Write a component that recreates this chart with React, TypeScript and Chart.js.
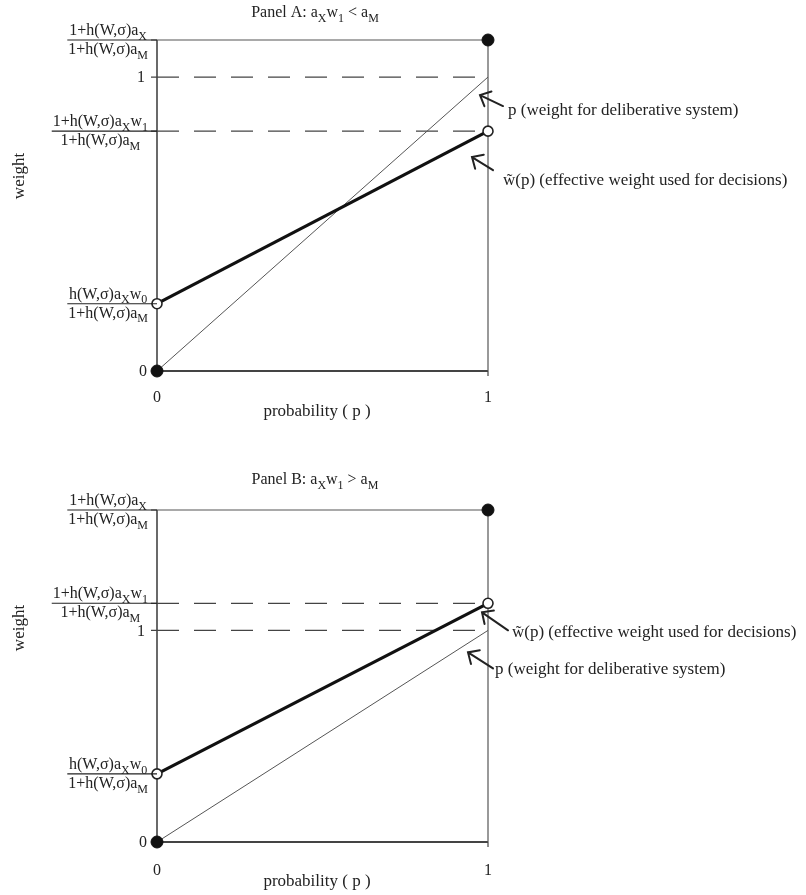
import React, { useEffect, useRef } from 'react';
import { Chart, registerables } from 'chart.js';

Chart.register(...registerables);

// ---------- data ----------
const probability = [0, 1];
const xTickLabels = ['0', '1'];

// Panel A: a_X w_1 < a_M
const panelADeliberative = [0, 1]; // p
const panelAEffective = [0.229, 0.816]; // w~(p) at p=0, p=1
const panelATop = [1.126];
const panelAOne = [1];

// Panel B: a_X w_1 > a_M
const panelBDeliberative = [0, 1];
const panelBEffective = [0.322, 1.128];
const panelBTop = [1.569];
const panelBOne = [1];

type Seg = [string, number];
const FONT = '"Liberation Serif", "Times New Roman", serif';
const INK = '#222';

const numerTop: Seg[] = [['1+h(W,σ)a', 0], ['X', 1]];
const denomM: Seg[] = [['1+h(W,σ)a', 0], ['M', 1]];
const numerW1: Seg[] = [['1+h(W,σ)a', 0], ['X', 1], ['w', 0], ['1', 1]];
const numerW0: Seg[] = [['h(W,σ)a', 0], ['X', 1], ['w', 0], ['0', 1]];
const titleA: Seg[] = [['Panel A: a', 0], ['X', 1], ['w', 0], ['1', 1], [' < a', 0], ['M', 1]];
const titleB: Seg[] = [['Panel B: a', 0], ['X', 1], ['w', 0], ['1', 1], [' > a', 0], ['M', 1]];
const pNote = 'p (weight for deliberative system)';
const wNote = 'w\u0303(p) (effective weight used for decisions)';
const xTitle = 'probability ( p )';
const yTitle = 'weight';

function segFont(size: number, sub: number) {
  return `${sub ? Math.round(size * 0.72) : size}px ${FONT}`;
}
function richWidth(ctx: CanvasRenderingContext2D, segs: Seg[], size: number) {
  let w = 0;
  for (const [t, s] of segs) {
    ctx.font = segFont(size, s);
    w += ctx.measureText(t).width;
  }
  return w;
}
function drawRich(ctx: CanvasRenderingContext2D, segs: Seg[], x: number, y: number, size: number, align: string) {
  const w = richWidth(ctx, segs, size);
  let cx = align === 'center' ? x - w / 2 : align === 'right' ? x - w : x;
  ctx.textAlign = 'left';
  ctx.textBaseline = 'alphabetic';
  for (const [t, s] of segs) {
    ctx.font = segFont(size, s);
    ctx.fillText(t, cx, y + (s ? size * 0.3 : 0));
    cx += ctx.measureText(t).width;
  }
}
function drawArrow(ctx: CanvasRenderingContext2D, tx: number, ty: number, fx: number, fy: number) {
  ctx.save();
  ctx.strokeStyle = INK;
  ctx.lineWidth = 2;
  ctx.lineCap = 'round';
  ctx.lineJoin = 'miter';
  ctx.beginPath();
  ctx.moveTo(fx, fy);
  ctx.lineTo(tx, ty);
  const ang = Math.atan2(fy - ty, fx - tx);
  const len = 12;
  const spread = 0.75;
  ctx.moveTo(tx + len * Math.cos(ang - spread), ty + len * Math.sin(ang - spread));
  ctx.lineTo(tx, ty);
  ctx.lineTo(tx + len * Math.cos(ang + spread), ty + len * Math.sin(ang + spread));
  ctx.stroke();
  ctx.restore();
}

interface Note {
  text: string;
  level: 'one' | 'w1';
  tip: [number, number];
  tail: [number, number];
  txt: [number, number];
}

interface PanelSpec {
  height: number;
  padding: { left: number; right: number; top: number; bottom: number };
  p: number[];
  w: number[];
  top: number[];
  one: number[];
  title: Seg[];
  titleY: number;
  xTickY: number;
  xTitleY: number;
  yTitleY: number;
  notes: Note[];
}

const specA: PanelSpec = {
  height: 447,
  padding: { left: 157, right: 318, top: 40, bottom: 76 },
  p: panelADeliberative,
  w: panelAEffective,
  top: panelATop,
  one: panelAOne,
  title: titleA,
  titleY: 17,
  xTickY: 402,
  xTitleY: 416,
  yTitleY: 176,
  notes: [
    { text: pNote, level: 'one', tip: [-8, 18], tail: [15, 29], txt: [20, 38] },
    { text: wNote, level: 'w1', tip: [-16, 26], tail: [5, 39], txt: [15, 54] },
  ],
};

const specB: PanelSpec = {
  height: 448,
  padding: { left: 157, right: 318, top: 63, bottom: 53 },
  p: panelBDeliberative,
  w: panelBEffective,
  top: panelBTop,
  one: panelBOne,
  title: titleB,
  titleY: 37,
  xTickY: 428,
  xTitleY: 439,
  yTitleY: 181,
  notes: [
    { text: wNote, level: 'w1', tip: [-6, 9], tail: [20, 27], txt: [24, 34] },
    { text: pNote, level: 'one', tip: [-20, 22], tail: [5, 38], txt: [7, 44] },
  ],
};

function buildChart(canvas: HTMLCanvasElement, spec: PanelSpec) {
  const top = spec.top[0];
  const one = spec.one[0];
  const w1 = spec.w[1];
  const w0 = spec.w[0];
  const pts = (ys: number[]) => ys.map((y, i) => ({ x: probability[i], y }));
  const level = (v: number) => probability.map((x) => ({ x, y: v }));
  const dash = [22, 15];

  const decor = {
    id: 'decor',
    beforeDatasetsDraw(chart: any) {
      const ctx: CanvasRenderingContext2D = chart.ctx;
      const xs = chart.scales.x;
      const ys = chart.scales.y;
      const xL = xs.getPixelForValue(0);
      const xR = xs.getPixelForValue(1);
      const yB = ys.getPixelForValue(0);
      const yT = ys.getPixelForValue(top);
      ctx.save();
      ctx.strokeStyle = '#444';
      ctx.lineWidth = 1.6;
      ctx.beginPath();
      ctx.moveTo(xL, yT);
      ctx.lineTo(xL, yB);
      ctx.stroke();
      ctx.lineWidth = 2;
      ctx.beginPath();
      ctx.moveTo(xL, yB);
      ctx.lineTo(xR, yB);
      ctx.stroke();
      // tick marks
      ctx.lineWidth = 1.2;
      ctx.beginPath();
      for (const v of [top, one, w1, w0, 0]) {
        const y = ys.getPixelForValue(v);
        ctx.moveTo(xL - 6, y);
        ctx.lineTo(xL, y);
      }
      for (const v of probability) {
        const x = xs.getPixelForValue(v);
        ctx.moveTo(x, yB);
        ctx.lineTo(x, yB + 5);
      }
      ctx.stroke();
      ctx.restore();
    },
    afterDraw(chart: any) {
      const ctx: CanvasRenderingContext2D = chart.ctx;
      const xs = chart.scales.x;
      const ys = chart.scales.y;
      const xL = xs.getPixelForValue(0);
      const xR = xs.getPixelForValue(1);
      const R = 148;
      const size = 16;
      ctx.save();
      ctx.fillStyle = INK;
      ctx.strokeStyle = INK;

      // fraction tick labels
      const fractions: [number, Seg[], Seg[]][] = [
        [top, numerTop, denomM],
        [w1, numerW1, denomM],
        [w0, numerW0, denomM],
      ];
      for (const [v, num, den] of fractions) {
        const y = ys.getPixelForValue(v);
        const wn = richWidth(ctx, num, size);
        const wd = richWidth(ctx, den, size);
        const W = Math.max(wn, wd);
        const cx = R - W / 2;
        ctx.lineWidth = 1.1;
        ctx.beginPath();
        ctx.moveTo(R - W - 1, y);
        ctx.lineTo(xL, y);
        ctx.stroke();
        drawRich(ctx, num, cx, y - 5, size, 'center');
        drawRich(ctx, den, cx, y + 14, size, 'center');
      }
      ctx.font = `${size}px ${FONT}`;
      ctx.textAlign = 'right';
      ctx.textBaseline = 'middle';
      ctx.fillText('1', 145, ys.getPixelForValue(one) + 1);
      ctx.fillText('0', 147, ys.getPixelForValue(0) + 1);

      // x ticks
      ctx.textAlign = 'center';
      ctx.textBaseline = 'alphabetic';
      probability.forEach((v, i) => {
        ctx.fillText(xTickLabels[i], xs.getPixelForValue(v), spec.xTickY);
      });
      ctx.font = `17px ${FONT}`;
      ctx.fillText(xTitle, 317, spec.xTitleY);

      // y title
      ctx.save();
      ctx.translate(20, spec.yTitleY);
      ctx.rotate(-Math.PI / 2);
      ctx.textAlign = 'center';
      ctx.textBaseline = 'middle';
      ctx.font = `17px ${FONT}`;
      ctx.fillText(yTitle, 0, 0);
      ctx.restore();

      // title
      drawRich(ctx, spec.title, 315, spec.titleY, 16, 'center');

      // annotations
      for (const n of spec.notes) {
        const base = ys.getPixelForValue(n.level === 'one' ? one : w1);
        drawArrow(ctx, xR + n.tip[0], base + n.tip[1], xR + n.tail[0], base + n.tail[1]);
        ctx.font = `17px ${FONT}`;
        ctx.textAlign = 'left';
        ctx.textBaseline = 'alphabetic';
        ctx.fillStyle = INK;
        ctx.fillText(n.text, xR + n.txt[0], base + n.txt[1]);
      }
      ctx.restore();
    },
  };

  return new Chart(canvas, {
    type: 'scatter',
    data: {
      datasets: [
        { label: 'top', data: level(top), showLine: true, borderColor: '#555', borderWidth: 1.2, pointRadius: 0, order: 6 },
        { label: 'one', data: level(one), showLine: true, borderColor: '#444', borderWidth: 1.3, borderDash: dash, pointRadius: 0, order: 6 },
        { label: 'w1', data: level(w1), showLine: true, borderColor: '#444', borderWidth: 1.3, borderDash: dash, pointRadius: 0, order: 6 },
        { label: 'right', data: [{ x: 1, y: 0 }, { x: 1, y: top }], showLine: true, borderColor: '#555', borderWidth: 1.2, pointRadius: 0, order: 6 },
        { label: 'p', data: pts(spec.p), showLine: true, borderColor: '#555', borderWidth: 1, pointRadius: 0, order: 4 },
        { label: 'w', data: pts(spec.w), showLine: true, borderColor: '#111', borderWidth: 3.2, pointRadius: 0, order: 3 },
        { label: 'filled', data: [{ x: 0, y: 0 }, { x: 1, y: top }], showLine: false, pointRadius: 6, pointBackgroundColor: '#111', pointBorderColor: '#111', pointBorderWidth: 1, order: 1 },
        { label: 'open', data: pts(spec.w), showLine: false, pointRadius: 5, pointBackgroundColor: '#fff', pointBorderColor: '#222', pointBorderWidth: 1.6, order: 1 },
      ] as any,
    },
    options: {
      animation: false,
      responsive: false,
      devicePixelRatio: 1,
      clip: false as any,
      layout: { padding: spec.padding },
      plugins: { legend: { display: false }, tooltip: { enabled: false } },
      events: [],
      scales: {
        x: { type: 'linear', min: 0, max: 1, display: false },
        y: { type: 'linear', min: 0, max: top, display: false },
      },
    },
    plugins: [decor],
  });
}

function Panel({ spec }: { spec: PanelSpec }) {
  const ref = useRef<HTMLCanvasElement>(null);
  useEffect(() => {
    if (!ref.current) return;
    const chart = buildChart(ref.current, spec);
    return () => chart.destroy();
  }, [spec]);
  return (
    <canvas
      ref={ref}
      width={806}
      height={spec.height}
      style={{ display: 'block', width: 806, height: spec.height }}
    />
  );
}

export default function App() {
  return (
    <div style={{ position: 'absolute', left: 0, top: 0, width: 806, height: 895, background: '#fff' }}>
      <Panel spec={specA} />
      <Panel spec={specB} />
    </div>
  );
}
